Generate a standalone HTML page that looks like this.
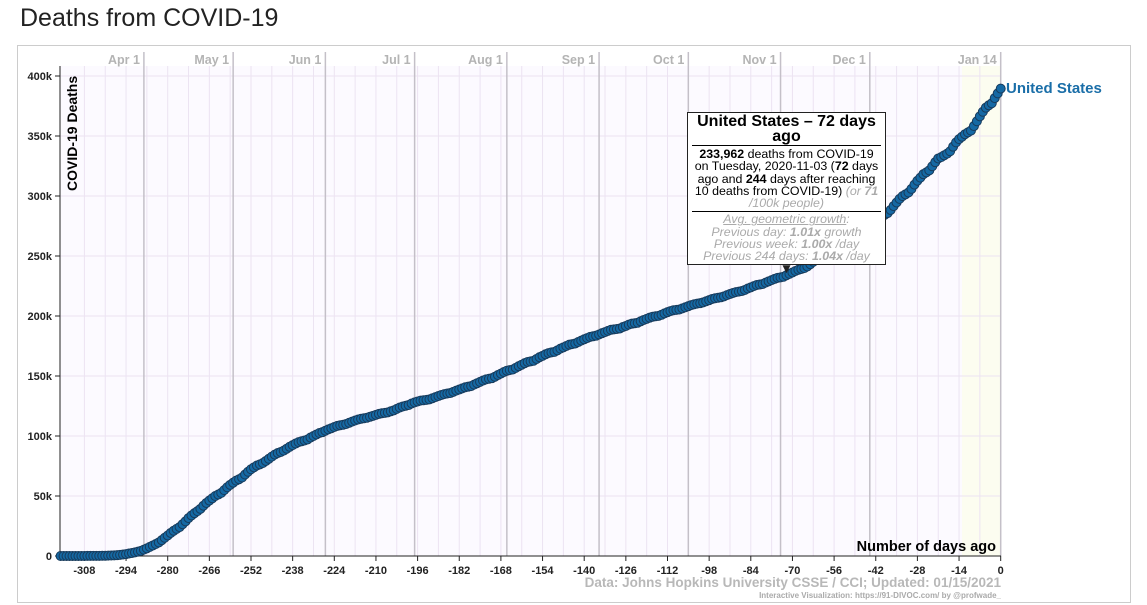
<!DOCTYPE html>
<html><head><meta charset="utf-8">
<style>
body{margin:0;background:#fff;font-family:"Liberation Sans",sans-serif;}
#title{position:absolute;left:20px;top:4px;font-size:25px;color:#222;}
#panel{position:absolute;left:17px;top:45px;width:1112px;height:556px;border:1px solid #ccc;}
svg{position:absolute;left:0;top:0}
#tip{position:absolute;left:687px;top:112px;width:199px;height:153px;background:#fff;border:1px solid #222;text-align:center;font-size:12.4px;line-height:12.3px;color:#000;box-sizing:border-box;padding:1px 4px;overflow:hidden}
#tip .h{font-weight:bold;font-size:16px;line-height:15px;border-bottom:1px solid #000;padding-bottom:1px;margin-bottom:2px}
#tip .g{color:#aaa;font-style:italic}
#tip .sep{border-top:1px solid #000;margin:2px 0 1px}
</style></head><body>
<div id="title">Deaths from COVID-19</div>
<div id="panel"></div>
<svg id="chart" width="1147" height="605"></svg>
<div id="tip">
<div class="h">United States – 72 days ago</div>
<div><b>233,962</b> deaths from COVID-19 on Tuesday, 2020-11-03 (<b>72</b> days ago and <b>244</b> days after reaching 10 deaths from COVID-19) <span class="g">(or <b>71</b> /100k people)</span></div>
<div class="sep"></div>
<div class="g"><u>Avg. geometric growth</u>:<br>Previous day: <b>1.01x</b> growth<br>Previous week: <b>1.00x</b> /day<br>Previous 244 days: <b>1.04x</b> /day</div>
</div>
<script>
const startDay = -316;
const deathsK = [
0.01,0.01,0.02,
0.02,0.02,0.03,0.03,0.04,0.05,0.06,0.07,0.09,0.11,0.15,0.2,0.26,0.35,0.44,0.56,0.7,0.94,1.2,1.6,2.1,2.5,3.0,3.6,4.3,
5.3,6.4,7.6,8.8,10.0,11.3,13.2,15.2,17.1,19.2,21.0,22.6,24.1,26.5,28.9,31.6,33.8,35.7,37.4,39.3,41.9,44.2,46.2,48.1,50.0,51.2,52.6,54.9,57.3,59.3,
61.1,62.8,64.0,65.4,67.9,70.2,72.3,73.9,75.4,76.4,77.5,79.2,81.0,82.8,84.5,85.8,86.7,87.8,89.4,91.0,92.4,93.7,94.9,95.6,96.3,97.1,98.7,100.0,101.3,102.5,103.2,
104.4,105.5,106.5,107.5,108.4,109.0,109.4,110.0,111.0,112.0,112.9,113.7,114.4,114.8,115.2,116.0,116.8,117.6,118.4,119.0,119.3,119.7,120.6,121.4,122.6,123.7,124.6,125.2,125.8,127.1,
128.0,128.8,129.5,129.8,130.1,130.5,131.5,132.4,133.3,134.2,134.9,135.4,135.8,136.8,137.8,138.7,139.7,140.6,141.1,141.6,142.8,144.0,145.1,146.2,147.2,147.7,148.2,149.4,150.8,152.0,153.3,
154.4,154.9,155.4,156.8,158.2,159.4,160.7,161.7,162.2,162.7,164.2,165.7,166.8,168.1,169.1,169.7,170.1,171.4,172.8,173.9,175.0,176.1,176.6,177.1,178.3,179.5,180.6,181.6,182.6,183.1,183.6,
184.6,185.7,186.6,187.6,188.5,188.9,189.2,189.6,190.8,191.7,192.8,193.6,194.0,194.4,195.6,196.7,197.6,198.6,199.4,199.8,200.1,201.0,202.2,203.2,204.1,204.8,205.1,205.4,206.4,207.3,
208.2,209.1,209.8,210.3,210.7,211.4,212.3,213.2,214.2,214.8,215.2,215.6,216.4,217.4,218.3,219.2,219.9,220.3,220.8,221.7,222.9,223.9,224.9,225.8,226.2,226.7,227.8,228.9,229.9,230.9,231.8,
232.2,232.7,234.0,235.1,236.3,237.5,238.5,239.2,239.9,241.3,243.2,245.2,246.7,248.0,248.7,249.5,251.1,253.1,255.1,257.1,258.6,259.5,260.4,262.6,264.8,266.1,267.5,268.3,269.1,270.1,
272.7,275.5,278.4,281.0,283.2,284.3,285.8,288.4,291.6,294.6,297.6,299.9,301.4,302.9,305.9,309.5,312.7,315.3,318.2,319.7,321.4,324.8,328.2,331.3,332.4,333.9,335.3,337.3,341.1,344.7,347.4,
349.4,351.5,353.0,354.5,358.3,362.3,366.4,370.2,373.6,375.6,377.3,381.6,385.5,389.5];
const xTicks = [-308,-294,-280,-266,-252,-238,-224,-210,-196,-182,-168,-154,-140,-126,-112,-98,-84,-70,-56,-42,-28,-14,0];
const yTicks = [0,50,100,150,200,250,300,350,400];
const yTickLabels = ["0","50k","100k","150k","200k","250k","300k","350k","400k"];
const monthLabels = ["Apr 1","May 1","Jun 1","Jul 1","Aug 1","Sep 1","Oct 1","Nov 1","Dec 1","Jan 14"];
const monthDays = [-288,-258,-227,-197,-166,-135,-105,-74,-44,0];
const hoverDay = -72;

const X0=1000.7, PX=2.975, Y0=556, PY=1.2;
const sx=d=>X0+d*PX, sy=v=>Y0-v*PY;
const NS="http://www.w3.org/2000/svg";
const svg=document.getElementById('chart');
function mk(t,a){const e=document.createElementNS(NS,t);for(const k in a)e.setAttribute(k,a[k]);svg.appendChild(e);return e;}
let e;
e=mk('rect',{x:60,y:66,width:941,height:490,fill:'#fcfaff'});


e=mk('rect',{x:sx(-13),y:66,width:sx(0)-sx(-13),height:490,fill:'#fcfdf0'});


for(let d=-308;d<=0;d+=7){e=mk('line',{x1:sx(d),x2:sx(d),y1:66,y2:556,stroke:'#ece3f2','stroke-width':1});

}
yTicks.forEach((v,i)=>{e=mk('line',{x1:60,x2:1001,y1:sy(v),y2:sy(v),stroke:'#ece3f2'});


e=mk('line',{x1:55,x2:60,y1:sy(v),y2:sy(v),stroke:'#222'});
e=mk('text',{x:52,y:sy(v)+4,'text-anchor':'end','font-size':11,'font-weight':'bold',fill:'#222'});e.textContent=yTickLabels[i];

});
monthDays.forEach((d,i)=>{e=mk('line',{x1:sx(d),x2:sx(d),y1:52,y2:556,stroke:'#c4c0c8','stroke-width':1.5});


e=mk('text',{x:sx(d)-4,y:64,'text-anchor':'end','font-size':12.5,'font-weight':'bold',fill:'#b4b4b4'});e.textContent=monthLabels[i];

});
mk('line',{x1:60,x2:60,y1:66,y2:556,stroke:'#222'});
mk('line',{x1:56,x2:1001,y1:556,y2:556,stroke:'#222'});
xTicks.forEach(d=>{mk('line',{x1:sx(d),x2:sx(d),y1:556,y2:561,stroke:'#222'});
e=mk('text',{x:sx(d),y:574,'text-anchor':'middle','font-size':11,'font-weight':'bold',fill:'#222'});e.textContent=d;

});
e=mk('text',{x:0,y:0,transform:'translate(77,191) rotate(-90)','font-size':14,'font-weight':'bold',fill:'#000'});e.textContent='COVID-19 Deaths';


e=mk('text',{x:996,y:551,'text-anchor':'end','font-size':14.5,'font-weight':'bold',fill:'#000'});e.textContent='Number of days ago';


deathsK.forEach((v,i)=>{e=mk('circle',{cx:sx(startDay+i),cy:sy(v),r:4.5,fill:'#1569a4',stroke:'#173b5c','stroke-width':1});

});
const hv=deathsK[hoverDay-startDay];
e=mk('path',{d:`M${sx(hoverDay)-4},${sy(hv)-10} l8,0 l-4,8 z`,fill:'#222'});


e=mk('text',{x:1006,y:93,'font-size':15,'font-weight':'bold',fill:'#1a6ea8'});e.textContent='United States';


e=mk('text',{x:1001,y:587,'text-anchor':'end','font-size':13.5,'font-weight':'bold',fill:'#b8b8b8'});e.textContent='Data: Johns Hopkins University CSSE / CCI; Updated: 01/15/2021';


e=mk('text',{x:1001,y:598,'text-anchor':'end','font-size':8,'font-weight':'bold',fill:'#aaa'});e.textContent='Interactive Visualization: https://91-DIVOC.com/ by @profwade_';


</script>
</body></html>
